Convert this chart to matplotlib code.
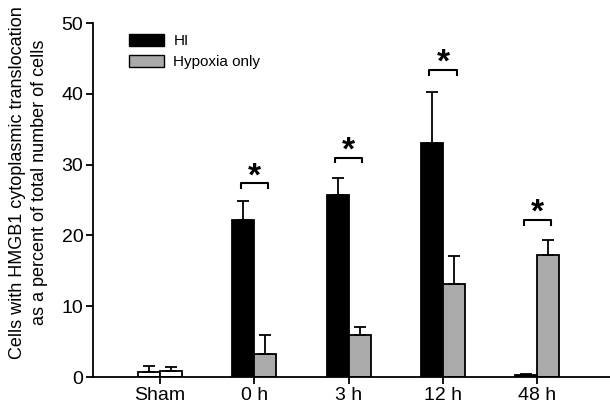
import matplotlib.pyplot as plt
import numpy as np
from matplotlib.patches import Patch

plt.rcParams['font.family'] = ['Liberation Sans', 'DejaVu Sans']

groups = ['Sham', '0 h', '3 h', '12 h', '48 h']
hi_mean = [0.7, 22.2, 25.7, 33.0, 0.3]
hi_err = [0.9, 2.6, 2.4, 7.2, 0.1]
hyp_mean = [0.85, 3.2, 5.9, 13.1, 17.2]
hyp_err = [0.6, 2.7, 1.2, 4.0, 2.1]

# significance brackets: group index, bracket height
sig_groups = [1, 2, 3, 4]
sig_heights = [27.4, 31.0, 43.4, 22.2]

fig = plt.figure(figsize=(6.1, 4.12), dpi=100)
ax = fig.add_axes([93 / 610, 35 / 412, 517 / 610, 354 / 412])

x = np.arange(len(groups))
w = 0.233
gray = '#aaaaaa'
black_colors = ['white'] + ['black'] * 4
gray_colors = ['white'] + [gray] * 4

ekw = dict(ecolor='black', elinewidth=1.3, capsize=4.5, capthick=1.3)
ax.bar(x - w / 2, hi_mean, w, color=black_colors, edgecolor='black', linewidth=1.3,
       yerr=[np.zeros(5), hi_err], error_kw=ekw)
ax.bar(x + w / 2, hyp_mean, w, color=gray_colors, edgecolor='black', linewidth=1.3,
       yerr=[np.zeros(5), hyp_err], error_kw=ekw)

for g, h in zip(sig_groups, sig_heights):
    x0, x1 = g - w / 2 - 0.03, g + w / 2 + 0.03
    ax.plot([x0, x0, x1, x1], [h - 0.7, h, h, h - 0.7], color='black', lw=1.5)
    ax.text(g, h + 0.9, '*', ha='center', va='center', fontsize=24, fontweight='bold')

handles = [Patch(facecolor='black', edgecolor='black', label='HI'),
           Patch(facecolor=gray, edgecolor='black', label='Hypoxia only')]
ax.legend(handles=handles, loc='upper left', bbox_to_anchor=(0.058, 0.985), frameon=False,
          fontsize=11, handlelength=2.3, handleheight=0.75, labelspacing=0.45,
          handletextpad=0.6, borderaxespad=0)

ax.set_xlim(-0.71, 4.77)
ax.set_ylim(0, 50)
ax.set_yticks([0, 10, 20, 30, 40, 50])
ax.set_xticks(x)
ax.set_xticklabels(groups)
ax.tick_params(axis='both', labelsize=14, width=1.3, length=5, direction='out', pad=2)
ax.spines['top'].set_visible(False)
ax.spines['right'].set_visible(False)
ax.spines['left'].set_linewidth(1.3)
ax.spines['bottom'].set_linewidth(1.3)
ax.set_ylabel('Cells with HMGB1 cytoplasmic translocation\nas a percent of total number of cells',
              fontsize=13, linespacing=1.35)
ax.yaxis.set_label_coords(-0.088, 0.55)

fig.savefig('out.png', dpi=100)
